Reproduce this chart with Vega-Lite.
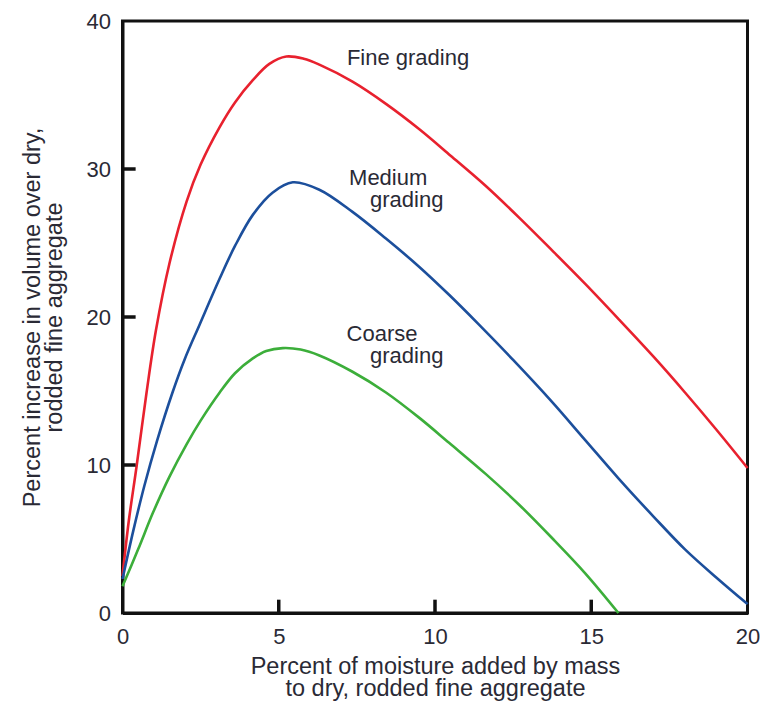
{
  "$schema": "https://vega.github.io/schema/vega-lite/v6.json",
  "width": 625,
  "height": 592,
  "autosize": {"type": "none"},
  "padding": {"left": 122.5, "top": 21, "right": 33.5, "bottom": 88},
  "background": "white",
  "config": {
    "font": "Liberation Sans",
    "view": {"stroke": "#111111", "strokeWidth": 3},
    "axis": {
      "grid": false,
      "ticks": false,
      "domainColor": "#111111",
      "domainWidth": 3,
      "labelFlush": false,
      "labelFont": "Liberation Sans",
      "labelFontSize": 22,
      "labelColor": "#2a2a35",
      "titleFont": "Liberation Sans",
      "titleFontSize": 23.5,
      "titleFontWeight": "normal",
      "titleColor": "#2a2a35",
      "titleLineHeight": 22
    }
  },
  "datasets": {
    "curves": [
      {"series": "Fine", "x": 0, "y": 2.5},
      {"series": "Fine", "x": 0.2, "y": 6.2},
      {"series": "Fine", "x": 0.45, "y": 9.9},
      {"series": "Fine", "x": 0.77, "y": 14.9},
      {"series": "Fine", "x": 1.07, "y": 19.1},
      {"series": "Fine", "x": 1.5, "y": 23.6},
      {"series": "Fine", "x": 2.05, "y": 27.8},
      {"series": "Fine", "x": 2.5, "y": 30.3},
      {"series": "Fine", "x": 3.1, "y": 32.8},
      {"series": "Fine", "x": 3.6, "y": 34.5},
      {"series": "Fine", "x": 4.17, "y": 36.0},
      {"series": "Fine", "x": 4.7, "y": 37.1},
      {"series": "Fine", "x": 5.24, "y": 37.6},
      {"series": "Fine", "x": 5.8, "y": 37.45},
      {"series": "Fine", "x": 6.3, "y": 37.05},
      {"series": "Fine", "x": 7.36, "y": 35.9},
      {"series": "Fine", "x": 8.43, "y": 34.4},
      {"series": "Fine", "x": 9.49, "y": 32.7},
      {"series": "Fine", "x": 10.5, "y": 30.9},
      {"series": "Fine", "x": 11.6, "y": 28.9},
      {"series": "Fine", "x": 12.7, "y": 26.7},
      {"series": "Fine", "x": 13.7, "y": 24.6},
      {"series": "Fine", "x": 14.8, "y": 22.25},
      {"series": "Fine", "x": 15.9, "y": 19.8},
      {"series": "Fine", "x": 17, "y": 17.3},
      {"series": "Fine", "x": 18, "y": 14.9},
      {"series": "Fine", "x": 19, "y": 12.4},
      {"series": "Fine", "x": 20, "y": 9.8},
      {"series": "Medium", "x": 0, "y": 2.3},
      {"series": "Medium", "x": 0.35, "y": 5.6},
      {"series": "Medium", "x": 0.7, "y": 8.6},
      {"series": "Medium", "x": 1.1, "y": 11.6},
      {"series": "Medium", "x": 1.6, "y": 14.9},
      {"series": "Medium", "x": 2.0, "y": 17.2},
      {"series": "Medium", "x": 2.47, "y": 19.5},
      {"series": "Medium", "x": 3.11, "y": 22.6},
      {"series": "Medium", "x": 3.6, "y": 24.8},
      {"series": "Medium", "x": 4.17, "y": 26.9},
      {"series": "Medium", "x": 4.8, "y": 28.4},
      {"series": "Medium", "x": 5.45, "y": 29.1},
      {"series": "Medium", "x": 6.3, "y": 28.6},
      {"series": "Medium", "x": 7.36, "y": 27.1},
      {"series": "Medium", "x": 8.43, "y": 25.3},
      {"series": "Medium", "x": 9.49, "y": 23.4},
      {"series": "Medium", "x": 10.45, "y": 21.5},
      {"series": "Medium", "x": 11.4, "y": 19.5},
      {"series": "Medium", "x": 12.5, "y": 17.1},
      {"series": "Medium", "x": 13.73, "y": 14.3},
      {"series": "Medium", "x": 14.8, "y": 11.7},
      {"series": "Medium", "x": 15.87, "y": 9.1},
      {"series": "Medium", "x": 17, "y": 6.5},
      {"series": "Medium", "x": 18, "y": 4.3},
      {"series": "Medium", "x": 19, "y": 2.4},
      {"series": "Medium", "x": 20, "y": 0.6},
      {"series": "Coarse", "x": 0, "y": 1.8},
      {"series": "Coarse", "x": 0.5, "y": 4.3},
      {"series": "Coarse", "x": 0.98, "y": 6.8},
      {"series": "Coarse", "x": 1.5, "y": 9.2},
      {"series": "Coarse", "x": 2.05, "y": 11.4},
      {"series": "Coarse", "x": 2.5, "y": 13.0},
      {"series": "Coarse", "x": 3.11, "y": 14.9},
      {"series": "Coarse", "x": 3.6, "y": 16.2},
      {"series": "Coarse", "x": 4.17, "y": 17.2},
      {"series": "Coarse", "x": 4.6, "y": 17.7},
      {"series": "Coarse", "x": 5.13, "y": 17.9},
      {"series": "Coarse", "x": 5.7, "y": 17.8},
      {"series": "Coarse", "x": 6.3, "y": 17.4},
      {"series": "Coarse", "x": 7.36, "y": 16.3},
      {"series": "Coarse", "x": 8.43, "y": 14.9},
      {"series": "Coarse", "x": 9.49, "y": 13.2},
      {"series": "Coarse", "x": 10.45, "y": 11.5},
      {"series": "Coarse", "x": 11.62, "y": 9.4},
      {"series": "Coarse", "x": 12.7, "y": 7.3},
      {"series": "Coarse", "x": 13.73, "y": 5.1},
      {"series": "Coarse", "x": 14.8, "y": 2.7},
      {"series": "Coarse", "x": 15.87, "y": 0}
    ],
    "labels": [
      {"text": "Fine grading", "x": 7.18, "y": 37.0},
      {"text": "Medium", "x": 7.25, "y": 28.95},
      {"text": "grading", "x": 7.92, "y": 27.46},
      {"text": "Coarse", "x": 7.17, "y": 18.38},
      {"text": "grading", "x": 7.92, "y": 16.89}
    ],
    "ticks": [
      {"tick": "x5", "x": 5, "y": 0},
      {"tick": "x5", "x": 5, "y": 0.9},
      {"tick": "x10", "x": 10, "y": 0},
      {"tick": "x10", "x": 10, "y": 0.9},
      {"tick": "x15", "x": 15, "y": 0},
      {"tick": "x15", "x": 15, "y": 0.9},
      {"tick": "y10", "x": 0, "y": 10},
      {"tick": "y10", "x": 0.42, "y": 10},
      {"tick": "y20", "x": 0, "y": 20},
      {"tick": "y20", "x": 0.42, "y": 20},
      {"tick": "y30", "x": 0, "y": 30},
      {"tick": "y30", "x": 0.42, "y": 30}
    ]
  },
  "layer": [
    {
      "data": {"name": "curves"},
      "mark": {"type": "line", "strokeWidth": 2.6, "interpolate": "catmull-rom"},
      "encoding": {
        "x": {
          "field": "x", "type": "quantitative",
          "scale": {"domain": [0, 20], "nice": false},
          "axis": {
            "values": [0, 5, 10, 15, 20],
            "labelPadding": 13,
            "title": ["Percent of moisture added by mass", "to dry, rodded fine aggregate"],
            "titleBaseline": "alphabetic",
            "titleY": 60
          }
        },
        "y": {
          "field": "y", "type": "quantitative",
          "scale": {"domain": [0, 40], "nice": false},
          "axis": {
            "values": [0, 10, 20, 30, 40],
            "labelPadding": 12,
            "title": ["Percent increase in volume over dry,", "rodded fine aggregate"],
            "titleBaseline": "alphabetic",
            "titleAngle": -90,
            "titleAlign": "center",
            "titleX": -83,
            "titleY": 296
          }
        },
        "color": {
          "field": "series", "type": "nominal",
          "scale": {"domain": ["Fine", "Medium", "Coarse"], "range": ["#e8212e", "#1c4f9c", "#3cae3a"]},
          "legend": null
        }
      }
    },
    {
      "data": {"name": "ticks"},
      "mark": {"type": "line", "stroke": "#111111", "strokeWidth": 3.5, "strokeCap": "butt"},
      "encoding": {
        "x": {"field": "x", "type": "quantitative"},
        "y": {"field": "y", "type": "quantitative"},
        "detail": {"field": "tick", "type": "nominal"}
      }
    },
    {
      "data": {"name": "labels"},
      "mark": {"type": "text", "align": "left", "baseline": "alphabetic", "fontSize": 22, "font": "Liberation Sans", "color": "#2a2a35"},
      "encoding": {
        "x": {"field": "x", "type": "quantitative"},
        "y": {"field": "y", "type": "quantitative"},
        "text": {"field": "text"}
      }
    }
  ]
}
